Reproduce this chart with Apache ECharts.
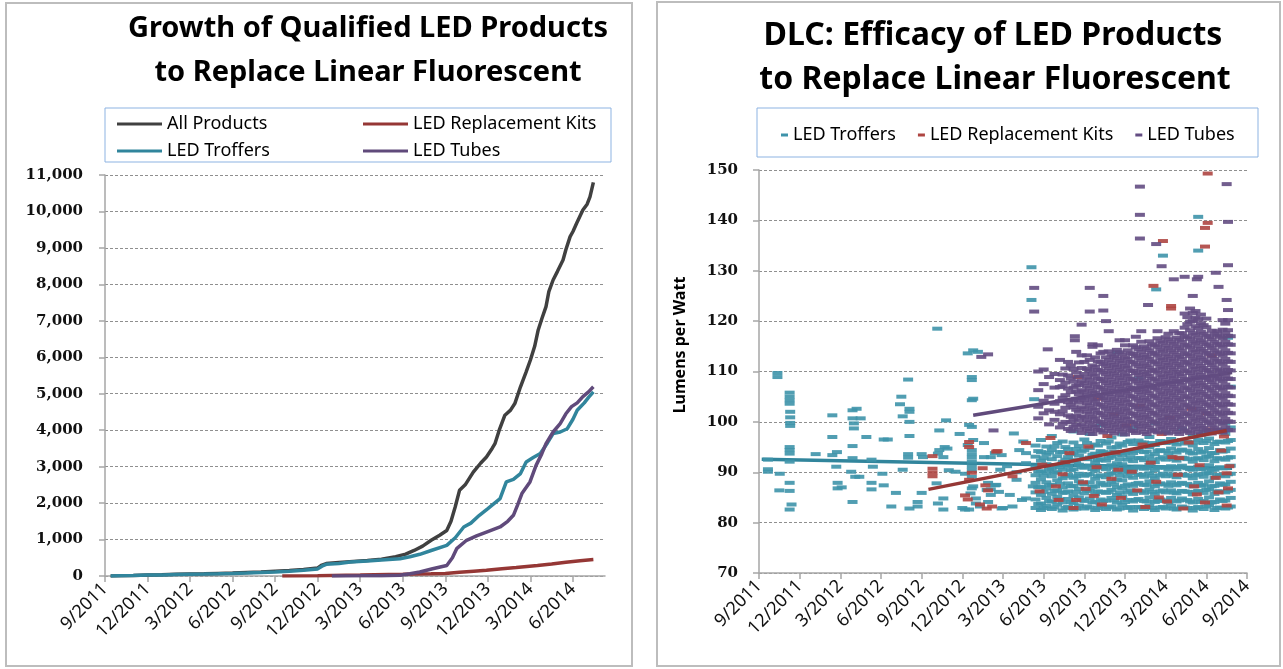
<!DOCTYPE html>
<html>
<head>
<meta charset="utf-8">
<script src="https://cdn.jsdelivr.net/npm/echarts@6/dist/echarts.min.js"></script>
<style>
html,body{margin:0;padding:0;background:#fff}
#main{width:1283px;height:669px}
</style>
</head>
<body>
<div id="main"></div>
<script>
// months counted from 9/2011
var growthTicks = ['9/2011','12/2011','3/2012','6/2012','9/2012','12/2012','3/2013','6/2013','9/2013','12/2013','3/2014','6/2014'];
var growthTickMonths = [0,3,6,9,12,15,18,21,24,27,30,33];
var efficacyTicks = ['9/2011','12/2011','3/2012','6/2012','9/2012','12/2012','3/2013','6/2013','9/2013','12/2013','3/2014','6/2014','9/2014'];
var efficacyTickMonths = [0,3,6,9,12,15,18,21,24,27,30,33,36];

// left chart: cumulative counts [month, count]
var allProducts = [[0.4,0],[1,5],[2,15],[3,30],[4,35],[5,45],[6,55],[7,60],[8,70],[9,80],[10,95],[11,110],[12,130],[13,150],[14,180],[15,220],[15.3,300],[15.6,340],[16.5,370],[17.5,400],[18.5,425],[19.5,460],[20.5,530],[21.2,600],[21.8,700],[22.4,820],[23.0,980],[23.6,1120],[24.1,1250],[24.4,1500],[24.7,1900],[25.0,2350],[25.4,2500],[25.97,2850],[26.5,3100],[26.9,3265],[27.3,3500],[27.5,3630],[27.8,4000],[28.2,4410],[28.6,4550],[28.9,4730],[29.3,5190],[29.7,5600],[30.0,5925],[30.3,6300],[30.55,6750],[30.8,7050],[31.1,7390],[31.3,7800],[31.6,8120],[31.9,8350],[32.3,8670],[32.5,8950],[32.8,9310],[33.0,9450],[33.26,9675],[33.7,10040],[34.0,10200],[34.2,10400],[34.44,10800]];
var replacementKits = [[12.5,0],[15,10],[18,25],[21,45],[23,60],[24,70],[25,100],[26,130],[26.9,155],[28,200],[29,235],[30.5,290],[31.5,330],[32.5,380],[33.5,420],[34.44,450]];
var troffers = [[0.4,0],[1,5],[2,12],[3,25],[4,30],[5,38],[6,45],[7,52],[8,60],[9,70],[10,82],[11,95],[12,110],[13,130],[14,160],[15,195],[15.3,270],[15.6,320],[16.5,345],[17.3,385],[18.5,410],[19.5,440],[20.8,475],[21.5,530],[22.2,595],[23.0,700],[24.1,840],[24.7,1050],[25.3,1345],[25.8,1450],[26.4,1665],[27.0,1850],[27.86,2120],[28.3,2580],[28.8,2650],[29.3,2810],[29.7,3130],[30.2,3250],[30.7,3360],[31.2,3650],[31.6,3905],[32.1,3950],[32.6,4040],[33.0,4300],[33.3,4545],[33.8,4750],[34.1,4900],[34.44,5050]];
var tubes = [[16,0],[18,5],[19.5,10],[20.8,20],[21.5,60],[22.2,110],[23.1,200],[24.1,290],[24.5,500],[24.8,750],[25.5,980],[26.2,1100],[26.9,1205],[27.86,1345],[28.4,1500],[28.8,1665],[29.1,1950],[29.4,2260],[29.97,2580],[30.4,3035],[30.8,3350],[31.1,3630],[31.6,3950],[32.1,4180],[32.5,4450],[32.9,4645],[33.3,4750],[33.7,4920],[34.1,5050],[34.44,5190]];

// right chart: efficacy points [month, lm/W]
var trofferPts = [[0.66,92.5],[0.66,90.6],[0.66,90.1],[1.36,109.7],[1.36,108.9],[1.53,89.7],[1.5,86.4],[2.26,105.8],[2.26,105.0],[2.26,104.3],[2.26,103.6],[2.3,102.0],[2.3,100.9],[2.3,99.8],[2.3,99.2],[2.26,95.0],[2.26,94.4],[2.26,93.7],[2.26,92.1],[2.26,87.9],[2.26,86.3],[2.4,83.6],[2.26,82.6],[4.18,93.6],[5.41,101.3],[5.41,97.0],[5.41,93.4],[5.75,94.0],[5.7,91.1],[5.8,87.9],[5.8,86.8],[6.1,87.0],[6.9,102.3],[7.2,102.6],[6.9,100.7],[7.5,100.7],[7.0,99.7],[7.0,98.7],[6.9,95.2],[6.9,92.8],[6.8,90.1],[7.1,89.1],[7.4,89.1],[6.9,84.1],[7.92,97.0],[8.3,92.5],[8.4,91.1],[8.3,87.9],[8.3,86.6],[9.2,96.5],[9.5,96.5],[9.1,89.7],[9.2,87.4],[10.1,85.9],[9.76,83.2],[10.5,105.0],[10.4,103.5],[10.6,101.1],[11.0,108.4],[11.1,102.6],[11.1,102.0],[11.1,100.0],[11.1,97.2],[11.0,93.6],[11.0,92.9],[10.6,90.5],[11.1,82.8],[11.7,84.1],[11.7,83.2],[12.0,85.9],[12.0,93.6],[12.1,93.0],[13.15,118.5],[13.3,98.3],[13.8,100.3],[13.3,94.4],[13.7,95.0],[13.9,94.7],[13.2,93.7],[13.6,93.0],[13.1,87.8],[13.6,84.8],[13.2,83.8],[13.6,82.6],[14.0,90.4],[14.5,90.1],[14.8,97.6],[15.4,113.6],[15.8,114.2],[16.15,113.9],[15.7,108.9],[15.7,108.3],[15.7,104.3],[15.8,104.6],[15.7,99.0],[15.4,95.4],[15.7,94.4],[15.7,93.6],[15.7,92.9],[15.7,92.1],[15.7,91.1],[15.7,90.4],[15.2,89.7],[15.7,89.1],[15.7,86.8],[15.6,85.8],[16.0,84.8],[16.0,83.8],[15.2,82.6],[15.5,82.6],[16.6,93.0],[17.1,93.0],[16.9,87.9],[17.4,87.4],[17.1,86.6],[17.7,86.1],[17.1,85.5],[16.9,84.1],[17.9,82.8],[15.5,99.4],[15.8,96.4],[16.6,95.8],[17.4,93.8],[17.9,93.4],[18.8,97.7],[19.2,94.4],[19.5,96.1],[19.7,93.8],[19.7,91.8],[17.8,90.5],[15.8,87.2],[16.8,86.5],[17.5,87.5],[18.5,85.5],[19.0,88.5],[19.7,84.8],[20.2,87.2],[15.0,82.9],[16.3,83.2],[18.0,82.9],[18.7,83.2],[19.4,84.5],[18.3,91.2],[19.0,90.0],[20.1,130.7],[20.1,124.2],[32.4,140.7],[32.4,134.0],[29.8,133.0],[29.3,126.3],[34.6,116.7],[20.3,104.5]];
var trofferCloud = [
  [20.4,[82.9,84.6,86.0,87.9,89.4,91.0,93.1,95.3]],
  [20.8,[82.5,83.8,85.5,87.1,88.6,90.2,92.3,94.0,96.4]],
  [21.2,[83.3,84.9,86.8,88.0,89.9,91.6,93.5,95.1]],
  [21.6,[82.7,84.2,85.7,87.5,89.2,90.7,92.6,94.4,97.2]],
  [22.0,[83.6,85.1,86.4,88.4,90.0,91.4,93.2,95.8]],
  [22.4,[82.4,84.0,85.9,87.0,88.8,90.5,92.1,94.0,96.1]],
  [22.8,[83.1,84.7,86.2,87.8,89.5,91.2,93.0,94.6]],
  [23.2,[82.6,83.9,85.4,87.3,88.9,90.6,92.4,93.9,95.9,98.1]],
  [23.6,[83.4,85.0,86.7,88.2,89.7,91.5,93.3,95.2]],
  [24.0,[82.8,84.3,85.8,87.6,89.3,90.9,92.7,94.4,96.5]],
  [24.4,[83.0,84.8,86.3,88.0,89.6,91.3,92.9,94.8,97.6]],
  [24.8,[82.5,84.1,85.6,87.2,88.7,90.3,92.0,93.7,95.5]],
  [25.2,[83.3,84.6,86.1,87.9,89.4,91.0,92.6,94.2,96.2,99.3]],
  [25.6,[82.7,84.4,85.9,87.4,89.0,90.6,92.3,93.9,95.7]],
  [26.0,[83.2,84.9,86.5,88.1,89.8,91.4,93.1,94.9,96.9]],
  [26.4,[82.6,84.0,85.5,87.0,88.5,90.1,91.8,93.5,95.0,113.8]],
  [26.8,[83.5,85.2,86.8,88.4,90.0,91.6,93.4,95.3,97.5]],
  [27.2,[82.9,84.5,86.0,87.6,89.2,90.8,92.5,94.1,96.0]],
  [27.6,[82.4,84.2,85.7,87.3,88.9,90.5,92.2,93.8,95.6,98.8]],
  [28.0,[83.1,84.7,86.3,87.9,89.5,91.1,92.8,94.6,96.3,108.6]],
  [28.4,[82.7,84.3,85.9,87.5,89.1,90.7,92.4,94.0,95.9]],
  [28.8,[83.4,85.0,86.6,88.2,89.8,91.5,93.2,95.0,97.0]],
  [29.2,[82.5,84.1,85.7,87.2,88.8,90.4,92.0,93.6,95.4,99.8]],
  [29.6,[83.0,84.6,86.2,87.8,89.4,91.0,92.7,94.4,96.2]],
  [30.0,[82.8,84.4,86.0,87.6,89.2,90.9,92.5,94.2,95.8,97.9]],
  [30.4,[83.3,84.9,86.4,88.0,89.6,91.2,93.0,94.7,96.6]],
  [30.8,[82.6,84.2,85.8,87.4,89.0,90.6,92.3,93.9,95.5]],
  [31.2,[83.2,84.8,86.3,87.9,89.5,91.3,92.9,94.5,96.4,98.6]],
  [31.6,[82.9,84.5,86.1,87.7,89.3,90.8,92.6,94.3,96.0]],
  [32.0,[82.4,84.0,85.6,87.2,88.8,90.5,92.1,93.7,95.3,97.2]],
  [32.4,[83.1,84.7,86.3,87.9,89.6,91.1,92.8,94.6,96.5]],
  [32.8,[82.7,84.3,85.9,87.5,89.1,90.7,92.4,94.1,95.8,98.0]],
  [33.2,[83.4,85.0,86.6,88.2,89.8,91.4,93.1,94.8,96.7]],
  [33.6,[82.5,84.1,85.7,87.3,88.9,90.5,92.2,93.8,95.6]],
  [34.0,[83.0,84.6,86.2,87.8,89.4,91.0,92.7,94.4,96.1,98.4]],
  [34.4,[82.8,84.4,86.0,87.6,89.2,90.8,92.5,94.2,95.9,97.6,99.8]],
  [34.8,[83.2,84.9,86.5,88.1,89.7,91.3,93.0,94.7,96.4,98.9,107.0]]
];
var trofferCloud2 = [
  [20.6,[83.7,87.0,90.1,94.2]],
  [21.0,[82.9,86.1,89.3,92.8]],
  [21.4,[84.2,87.4,90.6,93.9]],
  [21.8,[83.0,86.3,89.9,95.1]],
  [22.2,[84.6,87.7,91.0,94.0]],
  [22.6,[82.9,86.0,89.2,92.5,95.0]],
  [23.0,[84.1,87.2,90.4,93.6]],
  [23.4,[82.8,86.1,89.2,92.2,94.6]],
  [23.8,[84.5,87.8,91.0,94.1]],
  [24.2,[83.2,86.4,89.5,92.6,95.8]],
  [24.6,[84.0,87.1,90.6,93.5]],
  [25.0,[82.9,86.2,89.2,92.4,95.3]],
  [25.4,[84.3,87.6,90.9,94.0]],
  [25.8,[83.0,86.1,89.5,92.8,96.1]],
  [26.2,[84.4,87.6,90.9,94.1]],
  [26.6,[82.8,86.0,89.3,92.6,95.7]],
  [27.0,[84.1,87.3,90.5,93.8]],
  [27.4,[83.1,86.4,89.8,93.0,96.3]],
  [27.8,[84.5,87.7,90.9,94.2]],
  [28.2,[83.0,86.2,89.5,92.8,95.9]],
  [28.6,[84.2,87.5,90.8,94.1]],
  [29.0,[82.9,86.1,89.3,92.5,95.8]],
  [29.4,[84.3,87.6,90.9,94.2]],
  [29.8,[83.1,86.4,89.7,93.0,96.1]],
  [30.2,[84.0,87.3,90.5,93.8]],
  [30.6,[82.8,86.0,89.3,92.6,95.9]],
  [31.0,[84.4,87.7,91.0,94.3]],
  [31.4,[83.0,86.2,89.5,92.8,95.7]],
  [31.8,[84.2,87.4,90.6,93.9]],
  [32.2,[82.9,86.1,89.4,92.7,95.9]],
  [32.6,[84.1,87.3,90.6,93.9]],
  [33.0,[83.2,86.5,89.8,93.1,96.2]],
  [33.4,[84.0,87.2,90.5,93.8]],
  [33.8,[82.9,86.2,89.5,92.8,96.0]],
  [34.2,[84.3,87.5,90.8,94.1]],
  [34.6,[83.0,86.3,89.6,92.9,96.2]]
];
var kitPts = [[12.8,93.2],[12.8,90.7],[12.8,89.9],[12.8,89.2],[15.5,96.0],[15.5,95.0],[15.7,89.9],[15.2,85.4],[15.4,84.6],[15.5,88.5],[16.5,90.8],[16.7,87.4],[16.9,86.4],[16.8,82.8],[16.3,83.6],[17.2,83.2],[17.5,94.1],[17.6,94.2],[18.7,89.2],[19.7,95.8],[20.7,86.2],[21.9,87.2],[22.1,84.5],[23.4,84.5],[23.5,108.9],[25.0,104.6],[20.9,91.5],[21.5,96.8],[22.4,89.6],[22.9,93.8],[23.2,82.9],[23.9,88.0],[24.3,95.1],[24.7,85.3],[24.9,91.0],[25.3,83.6],[25.7,97.2],[26.0,88.7],[26.3,93.9],[26.7,84.9],[27.1,99.3],[27.5,90.1],[27.9,86.4],[28.3,95.5],[28.5,83.1],[28.9,91.9],[29.3,88.1],[29.7,97.6],[30.1,84.2],[30.5,93.0],[30.9,89.5],[31.3,82.8],[31.7,95.9],[32.1,87.2],[32.5,91.4],[32.9,84.0],[33.3,98.5],[33.7,88.9],[34.1,94.3],[34.5,83.4],[34.6,86.8],[34.7,91.2],[34.3,97.1],[33.0,101.7],[31.9,102.6],[30.3,100.8],[28.1,103.2],[26.2,101.5],[33.1,149.3],[33.1,139.5],[32.9,138.5],[32.9,134.8],[29.8,135.9],[29.1,127.0],[30.4,123.0],[30.4,122.5],[33.4,113.2],[22.6,92.0],[24.1,86.7],[26.5,90.5],[29.5,85.0],[31.0,92.8],[32.3,85.6],[33.9,86.0],[34.5,89.8]];
var tubePts = [[16.4,112.9],[16.9,113.4],[17.3,98.3],[20.3,126.6],[20.3,121.9],[24.4,126.6],[24.4,121.9],[25.4,125.0],[23.8,119.3],[23.3,117.0],[23.3,116.2],[24.6,115.4],[21.3,114.4],[25.6,120.0],[27.0,116.2],[28.7,123.2],[28.1,146.7],[28.1,141.1],[28.1,136.4],[29.3,135.3],[29.7,130.9],[34.5,147.2],[34.6,139.7],[34.6,131.1],[33.7,129.6],[32.4,128.8],[32.3,128.3],[31.4,128.8],[30.6,128.3],[33.9,126.8],[32.0,125.0],[34.5,124.2]];
var tubeCloud = [
  [20.6,[100.7,103.0,106.3,110.0]],
  [21.0,[101.7,104.2,107.5,110.4]],
  [21.4,[99.5,102.3,105.0,108.9]],
  [21.8,[100.4,102.0,103.6,106.8,109.5]],
  [22.2,[98.9,101.5,104.1,106.9,108.3,112.3]],
  [22.6,[100.0,102.8,105.3,107.8,110.6]],
  [23.0,[98.2,99.9,101.0,103.4,105.9,108.6,111.2]],
  [23.4,[99.4,101.2,102.4,104.6,106.0,107.2,109.8,113.9]],
  [23.8,[97.8,99.5,101.1,102.9,104.6,106.3,108.1,110.7,113.2]],
  [24.2,[98.6,100.3,102.0,103.7,105.4,107.1,108.8,110.5,113.2]],
  [24.6,[97.6,99.3,101.0,102.7,104.4,106.1,107.8,109.5,111.2,114.9]],
  [25.0,[98.4,100.1,101.8,103.5,105.2,106.9,108.6,110.3,112.0,115.2]],
  [25.4,[97.9,99.6,101.3,103.0,104.7,106.4,108.1,109.8,111.5,113.9,122.1]],
  [25.8,[98.7,100.4,102.1,103.8,105.5,107.2,108.9,110.6,112.3,114.0,118.0]],
  [26.2,[97.7,99.4,101.1,102.8,104.5,106.2,107.9,109.6,111.3,113.0]],
  [26.6,[98.5,100.2,101.9,103.6,105.3,107.0,108.7,110.4,112.1,113.8,116.2]],
  [27.0,[97.5,99.2,100.9,102.6,104.3,106.0,107.7,109.4,111.1,112.8,115.2]],
  [27.4,[98.3,100.0,101.7,103.4,105.1,106.8,108.5,110.2,111.9,113.6]],
  [27.8,[97.8,99.5,101.2,102.9,104.6,106.3,108.0,109.7,111.4,113.1,114.8,116.9]],
  [28.2,[98.6,100.3,102.0,103.7,105.4,107.1,108.8,110.5,112.2,113.9,115.9,118.0]],
  [28.6,[97.6,99.3,101.0,102.7,104.4,106.1,107.8,109.5,111.2,112.9,114.6]],
  [29.0,[98.4,100.1,101.8,103.5,105.2,106.9,108.6,110.3,112.0,113.7,115.4]],
  [29.4,[97.9,99.6,101.3,103.0,104.7,106.4,108.1,109.8,111.5,113.2,114.9,116.6,118.0]],
  [29.8,[98.7,100.4,102.1,103.8,105.5,107.2,108.9,110.6,112.3,114.0,115.7]],
  [30.2,[97.7,99.4,101.1,102.8,104.5,106.2,107.9,109.6,111.3,113.0,114.7,116.4,117.5]],
  [30.6,[98.5,100.2,101.9,103.6,105.3,107.0,108.7,110.4,112.1,113.8,115.5,118.0]],
  [31.0,[97.6,99.3,101.0,102.7,104.4,106.1,107.8,109.5,111.2,112.9,114.6,116.3,117.6]],
  [31.4,[98.3,100.0,101.7,103.4,105.1,106.8,108.5,110.2,111.9,113.6,115.3,117.0,118.7,121.5]],
  [31.8,[97.8,99.5,101.2,102.9,104.6,106.3,108.0,109.7,111.4,113.1,114.8,116.5,118.2,119.9,122.5]],
  [32.2,[98.6,100.3,102.0,103.7,105.4,107.1,108.8,110.5,112.2,113.9,115.6,117.3,119.0,120.7,122.0]],
  [32.6,[97.5,99.2,100.9,102.6,104.3,106.0,107.7,109.4,111.1,112.8,114.5,116.2,117.9,119.6,121.3]],
  [33.0,[98.4,100.1,101.8,103.5,105.2,106.9,108.6,110.3,112.0,113.7,115.4,117.1,118.8,120.5]],
  [33.4,[97.7,99.4,101.1,102.8,104.5,106.2,107.9,109.6,111.3,113.0,114.7,116.4,118.1]],
  [33.8,[98.5,100.2,101.9,103.6,105.3,107.0,108.7,110.4,112.1,113.8,115.5,117.2,118.0]],
  [34.2,[97.9,99.6,101.3,103.0,104.7,106.4,108.1,109.8,111.5,113.2,114.9,116.6,118.3,120.2]],
  [34.6,[98.4,100.1,101.8,103.5,105.2,106.9,108.6,110.3,112.0,113.7,115.4,117.1,118.2,120.2,122.2]]
];
var tubeCloud2 = [
  [22.4,[99.6,102.1,104.8,107.1,109.4]],
  [22.8,[98.6,101.3,103.9,106.6,109.2,111.9]],
  [23.2,[99.0,100.5,102.9,104.2,106.8,108.0,110.5]],
  [23.6,[98.5,100.3,102.0,103.8,105.5,107.3,109.0,111.8]],
  [24.0,[99.1,100.9,102.6,104.3,106.0,107.7,109.5,111.9]],
  [24.4,[98.2,99.9,101.6,103.3,105.0,106.7,108.4,110.2,112.3]],
  [24.8,[99.0,100.7,102.4,104.1,105.8,107.5,109.2,110.9,112.8]],
  [25.2,[98.3,100.0,101.7,103.4,105.1,106.8,108.5,110.2,111.9,113.6]],
  [25.6,[99.2,100.9,102.6,104.3,106.0,107.7,109.4,111.1,112.8]],
  [26.0,[98.2,99.9,101.6,103.3,105.0,106.7,108.4,110.1,111.8,113.4]],
  [26.4,[99.0,100.7,102.4,104.1,105.8,107.5,109.2,110.9,112.6,114.3]],
  [26.8,[98.1,99.8,101.5,103.2,104.9,106.6,108.3,110.0,111.7,113.4]],
  [27.2,[98.9,100.6,102.3,104.0,105.7,107.4,109.1,110.8,112.5,114.2]],
  [27.6,[98.2,99.9,101.6,103.3,105.0,106.7,108.4,110.1,111.8,113.5,115.2]],
  [28.0,[99.1,100.8,102.5,104.2,105.9,107.6,109.3,111.0,112.7,114.4]],
  [28.4,[98.0,99.7,101.4,103.1,104.8,106.5,108.2,109.9,111.6,113.3,115.0]],
  [28.8,[98.9,100.6,102.3,104.0,105.7,107.4,109.1,110.8,112.5,114.2,116.0]],
  [29.2,[98.2,99.9,101.6,103.3,105.0,106.7,108.4,110.1,111.8,113.5,115.2]],
  [29.6,[99.0,100.7,102.4,104.1,105.8,107.5,109.2,110.9,112.6,114.3,116.0]],
  [30.0,[98.1,99.8,101.5,103.2,104.9,106.6,108.3,110.0,111.7,113.4,115.1,116.8]],
  [30.4,[98.9,100.6,102.3,104.0,105.7,107.4,109.1,110.8,112.5,114.2,115.9]],
  [30.8,[98.0,99.7,101.4,103.1,104.8,106.5,108.2,109.9,111.6,113.3,115.0,116.7]],
  [31.2,[98.9,100.6,102.3,104.0,105.7,107.4,109.1,110.8,112.5,114.2,115.9,117.6]],
  [31.6,[98.1,99.8,101.5,103.2,104.9,106.6,108.3,110.0,111.7,113.4,115.1,116.8,119.4,120.8]],
  [32.0,[98.9,100.6,102.3,104.0,105.7,107.4,109.1,110.8,112.5,114.2,115.9,117.6,120.0,121.6]],
  [32.4,[98.0,99.7,101.4,103.1,104.8,106.5,108.2,109.9,111.6,113.3,115.0,116.7,118.6,120.4]],
  [32.8,[98.8,100.5,102.2,103.9,105.6,107.3,109.0,110.7,112.4,114.1,115.8,117.5,119.2]],
  [33.2,[98.1,99.8,101.5,103.2,104.9,106.6,108.3,110.0,111.7,113.4,115.1,116.8]],
  [33.6,[98.9,100.6,102.3,104.0,105.7,107.4,109.1,110.8,112.5,114.2,115.9,117.5]],
  [34.0,[98.2,99.9,101.6,103.3,105.0,106.7,108.4,110.1,111.8,113.5,115.2,116.9]],
  [34.4,[98.9,100.6,102.3,104.0,105.7,107.4,109.1,110.8,112.5,114.2,115.9,117.6,119.5]],
  [34.8,[98.3,100.0,101.7,103.4,105.1,106.8,108.5,110.2,111.9,113.6,115.3,117.0]]
];
var trofferTrend = [[0.2,92.6],[34.9,90.8]];
var kitTrend = [[12.5,86.6],[34.5,98.3]];
var tubeTrend = [[15.8,101.3],[34.9,109.8]];

function expand(cols) {
	var out = [];
	cols.forEach(function(c) {
		c[1].forEach(function(v) { out.push([c[0], v]); });
	});
	return out;
}

var COL_BLACK = '#404040', COL_RED = '#953735', COL_TEAL = '#31859C', COL_PURPLE = '#604A7B';
var MK_TEAL = '#3E93AA', MK_RED = '#AE4541', MK_PURPLE = '#634C82';
var gridDash = {color: '#8f8f8f', type: [3, 2], width: 1};
var axisGray = {color: '#a6a6a6', width: 1.5};
var tickFont = {fontFamily: 'Noto Sans', fontSize: 18, color: '#111'};
var yFont = {fontFamily: 'DejaVu Serif', fontWeight: 'bold', fontSize: 15, color: '#111'};
var legendFont = {fontFamily: 'Noto Sans', fontSize: 18, color: '#000'};

// one legend per item so the two columns line up like the original
function lineLegend(name, x, y) {
	return {data: [name], left: x, top: y, icon: 'rect', itemWidth: 45, itemHeight: 3, itemGap: 5, selectedMode: false, textStyle: legendFont};
}

var chart = echarts.init(document.getElementById('main'));

var option = {
	animation: false,
	backgroundColor: '#fff',
	graphic: [
		{type: 'rect', shape: {x: 6, y: 3, width: 626, height: 663}, style: {fill: 'none', stroke: '#bdbdbd', lineWidth: 2}},
		{type: 'rect', shape: {x: 657, y: 2, width: 623, height: 664}, style: {fill: 'none', stroke: '#bdbdbd', lineWidth: 2}},
		{type: 'rect', shape: {x: 105, y: 108, width: 506, height: 54}, style: {fill: 'none', stroke: '#8DB3E2', lineWidth: 1}},
		{type: 'rect', shape: {x: 757, y: 108, width: 501, height: 49}, style: {fill: 'none', stroke: '#8DB3E2', lineWidth: 1}},
		{type: 'text', x: 368, y: 29, style: {text: 'Growth of Qualified LED Products', align: 'center', verticalAlign: 'middle', font: 'bold 29px "Noto Sans"', fill: '#000'}},
		{type: 'text', x: 368, y: 73, style: {text: 'to Replace Linear Fluorescent', align: 'center', verticalAlign: 'middle', font: 'bold 29px "Noto Sans"', fill: '#000'}},
		{type: 'text', x: 993, y: 36, style: {text: 'DLC: Efficacy of LED Products', align: 'center', verticalAlign: 'middle', font: 'bold 32px "Noto Sans"', fill: '#000'}},
		{type: 'text', x: 995, y: 80, style: {text: 'to Replace Linear Fluorescent', align: 'center', verticalAlign: 'middle', font: 'bold 32px "Noto Sans"', fill: '#000'}},
		{type: 'text', x: 680, y: 345, rotation: Math.PI / 2, style: {text: 'Lumens per Watt', align: 'center', verticalAlign: 'middle', font: 'bold 16px "Noto Sans"', fill: '#000'}}
	],
	legend: [
		lineLegend('All Products', 112, 110),
		lineLegend('LED Replacement Kits', 358, 110),
		lineLegend('LED Troffers', 112, 137),
		lineLegend('LED Tubes', 358, 137),
		{data: [{name: 'LED Troffers', itemStyle: {color: MK_TEAL}}, {name: 'LED Replacement Kits', itemStyle: {color: MK_RED}}, {name: 'LED Tubes', itemStyle: {color: MK_PURPLE}}],
		 left: 776, top: 121, icon: 'rect', itemWidth: 7, itemHeight: 3, itemGap: 22, selectedMode: false, textStyle: legendFont}
	],
	grid: [
		{left: 105, top: 175, width: 500, height: 401},
		{left: 759, top: 170, width: 488, height: 403}
	],
	xAxis: [
		{type: 'value', gridIndex: 0, min: 0, max: 35.26,
		 axisLine: {lineStyle: axisGray},
		 axisTick: {show: true, customValues: growthTickMonths, length: 6, lineStyle: axisGray},
		 axisLabel: Object.assign({customValues: growthTickMonths, rotate: 45, margin: 10,
			formatter: function(v) { return growthTicks[Math.round(v / 3)]; }}, tickFont),
		 splitLine: {show: false}},
		{type: 'value', gridIndex: 1, min: 0, max: 36,
		 axisLine: {lineStyle: axisGray},
		 axisTick: {show: true, customValues: efficacyTickMonths, length: 6, lineStyle: axisGray},
		 axisLabel: Object.assign({customValues: efficacyTickMonths, rotate: 45, margin: 10,
			formatter: function(v) { return efficacyTicks[Math.round(v / 3)]; }}, tickFont),
		 splitLine: {show: false}}
	],
	yAxis: [
		{type: 'value', gridIndex: 0, min: 0, max: 11000, interval: 1000,
		 axisLine: {show: true, lineStyle: axisGray},
		 axisTick: {show: true, length: 6, lineStyle: axisGray},
		 axisLabel: Object.assign({margin: 22, formatter: function(v) { return v.toLocaleString('en-US'); }}, yFont),
		 splitLine: {show: true, lineStyle: gridDash}},
		{type: 'value', gridIndex: 1, min: 70, max: 150, interval: 10,
		 axisLine: {show: true, lineStyle: axisGray},
		 axisTick: {show: true, length: 6, lineStyle: axisGray},
		 axisLabel: Object.assign({margin: 21}, yFont),
		 splitLine: {show: true, lineStyle: gridDash}}
	],
	series: [
		{name: 'All Products', type: 'line', xAxisIndex: 0, yAxisIndex: 0, data: allProducts, showSymbol: false, lineStyle: {width: 3.5, color: COL_BLACK}, itemStyle: {color: COL_BLACK}},
		{name: 'LED Replacement Kits', type: 'line', xAxisIndex: 0, yAxisIndex: 0, data: replacementKits, showSymbol: false, lineStyle: {width: 3.5, color: COL_RED}, itemStyle: {color: COL_RED}},
		{name: 'LED Troffers', type: 'line', xAxisIndex: 0, yAxisIndex: 0, data: troffers, showSymbol: false, lineStyle: {width: 3.5, color: COL_TEAL}, itemStyle: {color: COL_TEAL}},
		{name: 'LED Tubes', type: 'line', xAxisIndex: 0, yAxisIndex: 0, data: tubes, showSymbol: false, lineStyle: {width: 3.5, color: COL_PURPLE}, itemStyle: {color: COL_PURPLE}},

		{name: 'trofferTrend', type: 'line', xAxisIndex: 1, yAxisIndex: 1, data: trofferTrend, showSymbol: false, lineStyle: {width: 3.5, color: COL_TEAL}, z: 1},
		{name: 'LED Troffers', type: 'scatter', xAxisIndex: 1, yAxisIndex: 1, data: trofferPts.concat(expand(trofferCloud), expand(trofferCloud2)), symbol: 'rect', symbolSize: [10, 4], itemStyle: {color: MK_TEAL, opacity: 0.9}, z: 2},
		{name: 'LED Replacement Kits', type: 'scatter', xAxisIndex: 1, yAxisIndex: 1, data: kitPts, symbol: 'rect', symbolSize: [10, 4], itemStyle: {color: MK_RED, opacity: 0.9}, z: 3},
		{name: 'tubeTrend', type: 'line', xAxisIndex: 1, yAxisIndex: 1, data: tubeTrend, showSymbol: false, lineStyle: {width: 3.5, color: COL_PURPLE}, z: 3},
		{name: 'LED Tubes', type: 'scatter', xAxisIndex: 1, yAxisIndex: 1, data: tubePts.concat(expand(tubeCloud), expand(tubeCloud2)), symbol: 'rect', symbolSize: [10, 4], itemStyle: {color: MK_PURPLE, opacity: 0.9}, z: 4},
		{name: 'kitTrend', type: 'line', xAxisIndex: 1, yAxisIndex: 1, data: kitTrend, showSymbol: false, lineStyle: {width: 3.5, color: COL_RED}, z: 5}
	]
};

chart.setOption(option);
</script>
</body>
</html>
